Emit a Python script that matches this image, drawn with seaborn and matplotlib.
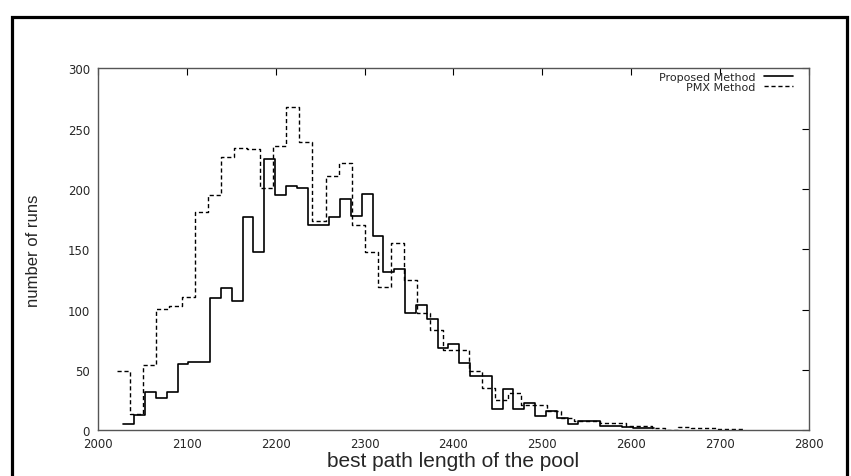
import matplotlib
matplotlib.use("Agg")
import matplotlib.pyplot as plt
import seaborn as sns
import numpy as np
import pandas as pd
from matplotlib.lines import Line2D
from matplotlib.patches import Rectangle

# Histogram bins (two methods use different bin widths)
proposed_start = 2028.2
proposed_width = 12.2
proposed_counts = [5, 13, 32, 27, 32, 55, 57, 57, 110, 118,
                   107, 177, 148, 225, 195, 203, 201, 170, 170, 177,
                   192, 178, 196, 161, 131, 134, 97, 104, 92, 68,
                   72, 56, 45, 45, 18, 34, 18, 23, 12, 16,
                   10, 5, 8, 8, 4, 4, 3, 2, 2]

pmx_start = 2020.7
pmx_width = 14.7
pmx_counts = [49, 14, 54, 101, 103, 111, 181, 195, 227, 234,
              233, 201, 236, 268, 239, 174, 211, 222, 170, 148,
              119, 155, 125, 97, 83, 67, 67, 49, 35, 25,
              31, 21, 21, 16, 10, 8, 8, 6, 6, 4,
              4, 2, 0, 3, 2, 2, 1, 1]

series_labels = ["Proposed Method", "PMX Method"]
x_ticks = [2000, 2100, 2200, 2300, 2400, 2500, 2600, 2700, 2800]
y_ticks = [0, 50, 100, 150, 200, 250, 300]


def hist_frame(start, width, counts):
    edges = start + width * np.arange(len(counts) + 1)
    df = pd.DataFrame({"length": edges[:-1] + width / 2, "runs": counts})
    return list(edges), df


sns.set_style("white")
plt.rcParams["font.family"] = ["DejaVu Sans"]

fig = plt.figure(figsize=(8.51, 4.77), dpi=100)
ax = fig.add_axes([0.1155, 0.0954, 0.8348, 0.7589])

# 1. Proposed method (solid step line)
edges, df = hist_frame(proposed_start, proposed_width, proposed_counts)
sns.histplot(data=df, x="length", weights="runs", bins=edges, element="step",
             fill=False, color="black", linewidth=1.2, ax=ax)

# 2. PMX method (dashed step line)
edges, df = hist_frame(pmx_start, pmx_width, pmx_counts)
sns.histplot(data=df, x="length", weights="runs", bins=edges, element="step",
             fill=False, color="black", linewidth=1.0, linestyle=(0, (3, 2)), ax=ax)

ax.set_xlim(2000, 2800)
ax.set_ylim(0, 300)
ax.set_xticks(x_ticks)
ax.set_yticks(y_ticks)
ax.tick_params(direction="in", length=5, width=0.8, color="black",
               top=True, right=True, labelsize=8.5, pad=5)
ax.tick_params(axis="y", pad=6)
for s in ax.spines.values():
    s.set_color("#555555")
    s.set_linewidth(1.0)

ax.set_xlabel("best path length of the pool", fontsize=15,
              family=["Liberation Sans", "DejaVu Sans"])
ax.set_ylabel("number of runs", fontsize=12,
              family=["Liberation Sans", "DejaVu Sans"])
ax.xaxis.set_label_coords(0.5, -0.058)
ax.yaxis.set_label_coords(-0.08, 0.5)

handles = [Line2D([], [], color="black", lw=1.2),
           Line2D([], [], color="black", lw=1.0, ls=(0, (3, 2)))]
ax.legend(handles, series_labels, loc="upper right", bbox_to_anchor=(0.978, 0.99),
          frameon=False, markerfirst=False, fontsize=8, handlelength=2.6,
          handletextpad=0.8, labelspacing=0.0, borderpad=0, borderaxespad=0)

# outer frame around the figure
fig.patches.append(Rectangle((0.0137, -0.1), 0.9816, 1.0633, transform=fig.transFigure,
                             fill=False, edgecolor="black", linewidth=2.3))

fig.savefig("out.png", dpi=100)
